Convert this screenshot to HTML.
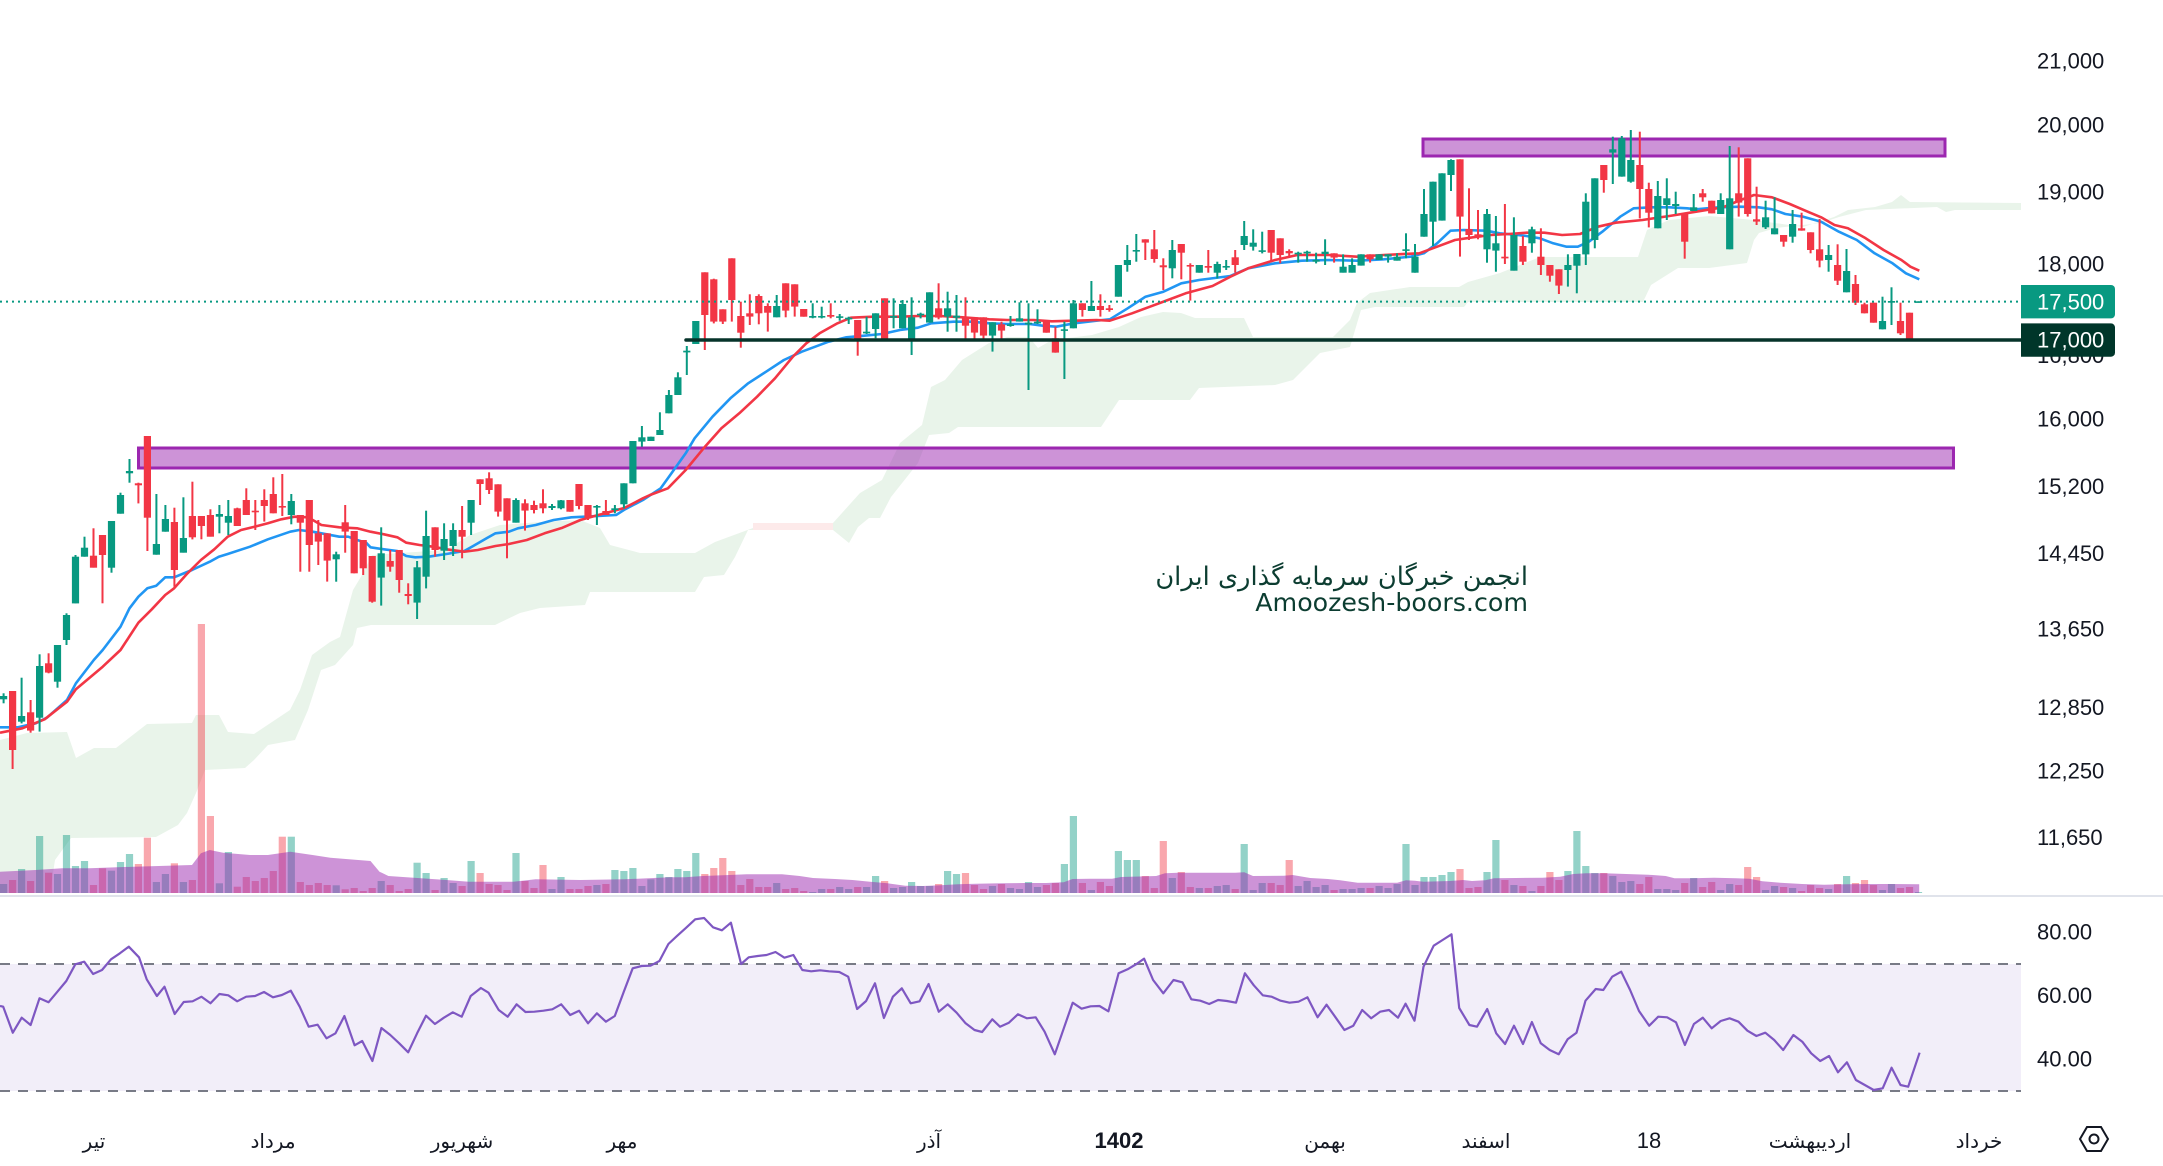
<!DOCTYPE html>
<html><head><meta charset="utf-8">
<style>
html,body{margin:0;padding:0;background:#fff;}
svg{display:block;}
</style></head>
<body>
<svg id="c" width="2163" height="1166" viewBox="0 0 2163 1166" xmlns="http://www.w3.org/2000/svg">
<rect width="2163" height="1166" fill="#fff"/>
<!-- Ichimoku cloud -->
<polygon fill="#e9f4ea" points="0,740 27,733 67,732 76,758 94,748 116,748 147,724 192,723 196,715 219,715 228,732 254,734 272,722 290,710 300,690 312,655 330,642 340,637 353,590 362,575 372,555 400,553 446,550 470,535 500,525 540,522 580,520 600,528 610,545 640,553 695,553 715,542 753,528 833,523 860,493 882,480 900,443 922,425 931,387 945,380 962,360 989,343 1007,337 1029,337 1038,348 1052,340 1092,335 1119,327 1141,317 1163,312 1181,313 1195,318 1244,318 1253,337 1333,337 1350,320 1357,303 1370,293 1410,287 1459,287 1468,282 1500,273 1540,257 1638,257 1647,230 1669,220 1709,216 1754,220 1803,227 1834,217 1848,210 1875,207 1892,202 1901,195 1910,202 2021,203 2021,210 1955,210 1946,212 1937,207 1866,210 1839,217 1821,223 1776,228 1759,233 1754,240 1747,263 1709,268 1678,268 1651,285 1643,302 1468,302 1464,307 1375,307 1361,310 1350,347 1320,353 1293,380 1275,385 1199,388 1190,400 1119,400 1101,427 958,427 949,433 929,435 918,463 891,497 880,518 869,518 858,527 849,543 833,530 753,530 748,530 735,557 724,575 704,577 695,592 590,592 585,605 540,608 520,613 495,625 371,625 357,628 353,645 335,665 321,670 308,710 295,740 268,745 254,760 245,768 205,770 196,793 187,813 178,825 156,837 71,838 55,860 50,893 0,893"/>
<polygon fill="#fdeaea" points="753,523 833,523 833,530 753,530"/>
<g id="vol"></g>
<polygon fill="rgba(156,39,176,0.5)" points="0,871.7 35.7,870 62.5,868.3 89.3,868.3 133.9,866.7 192,865 200.9,853.3 209.8,850 223.2,852.7 250,855 267.9,855 290.2,851.7 312.5,855 330.4,857.7 370.5,861 379.5,871.7 388.4,876 446.4,880 468.8,881.7 513.4,881.7 535.7,879.3 580.4,880 625,879.3 669.6,877.3 685.2,877.3 702.8,876 729.2,875 746.8,874.3 782,874.3 799.6,876 812.9,878 834.9,879 852.5,880 870.1,881.7 887.7,883.3 905.3,885.7 922.9,886 940.5,885.3 958.1,884.3 975.7,883.7 1002.1,883.3 1024.1,883 1046.1,883 1063.7,882.3 1072.5,879 1090.1,878.7 1112.1,878.7 1121,877 1156.2,876 1165,873.3 1178.2,872.7 1200.2,872.7 1235.4,872.7 1244.2,872.3 1253,876 1283.8,875.7 1292.6,875 1310.2,878 1327.8,879 1340.1,880.3 1357.6,882.7 1397.2,882.7 1406,880.3 1414.8,880.7 1423.6,881.7 1450,881 1463.2,880 1472,881 1485.2,880.3 1494,878.3 1516.1,878 1542.5,877.7 1560.1,876.7 1573.3,874 1586.5,873.3 1604.1,873.3 1626.1,874 1648.1,874.7 1665.7,876 1674.5,878.3 1692.1,878.3 1714.1,877.7 1736.1,878.3 1749.3,878.7 1762.5,881.3 1780.1,882.7 1802.1,884 1824.1,884.7 1846.1,884.3 1868.2,884 1890.1,884 1919.2,884.3 1919.2,893 0,893"/>
<!-- purple zones -->
<rect x="1423" y="139" width="522" height="17" fill="rgba(156,39,176,0.5)" stroke="#9c27b0" stroke-width="3"/>
<rect x="138.5" y="448" width="1815" height="20" fill="rgba(156,39,176,0.5)" stroke="#9c27b0" stroke-width="3"/>
<!-- MAs -->
<polyline fill="none" stroke="#2196f3" stroke-width="2.6" stroke-linejoin="round" points="0,727.3 17.9,727.3 35.7,723.3 46.9,717.7 67,700 75.9,683.3 93.8,660 102.7,650 120.5,626.7 129.5,608.3 138.4,596.7 147.3,588.3 156.3,585.7 165.2,577.3 174.1,577.3 192,570 209.8,561.7 218.8,556.7 227.7,554 250,546.7 267.9,539.3 290.2,531.7 299.1,530 312.5,531.7 321.4,533.3 339.3,536.7 348.2,536.7 357.1,540 366.1,542.7 370.5,547.3 383.9,549.3 397.3,551 406.3,556 415.2,557.3 428.6,556.7 446.4,554 464.3,551 473.2,546 486.6,538.3 495.5,533.3 508.9,531.7 517.9,528.3 535.7,525 553.6,520 571.4,517.3 584.8,516.7 616.1,515 625,509.3 642.9,500 660.7,488.3 667.9,478.3 685.7,453.3 694.6,438.3 712.5,416.7 730.4,398.3 748.2,383.3 766.1,371.7 783.9,360 801.8,351.7 828.6,341.7 846.4,337.3 864.3,335.7 882.1,334 900,330 917.9,327.7 931.3,323.3 953.6,321.7 971.4,321.7 989.3,323.3 1007.1,324 1029.5,324 1042.9,325.7 1056.3,326.7 1074.1,323.3 1096.4,320.7 1109.8,319.3 1127.7,308.3 1145.5,296.7 1163.4,291.7 1181.3,283.3 1199.1,280 1230.4,276 1248.2,268.3 1275,263.3 1301.8,260.7 1328.6,260 1356.8,260.7 1383.6,259.3 1410.4,256.7 1423.8,253.3 1437.1,243.3 1450.5,230.7 1463.9,230 1486.3,230.7 1499.6,233.3 1517.5,235 1526.4,236 1539.8,238.3 1553.2,243.3 1566.6,246.7 1577.8,246.7 1588.9,241.7 1602.3,231.7 1620.2,216.7 1633.6,208.3 1651.4,207.3 1669.3,207.3 1687.1,208.3 1696.1,209.3 1718.4,207.3 1740.7,206.7 1758.6,207.3 1772,209.3 1785.4,214 1803.2,216.7 1821.1,221.7 1838.9,231.7 1856.8,240 1874.6,253.3 1892.5,263.3 1905.9,273.3 1919.3,279.3"/>
<polyline fill="none" stroke="#f23645" stroke-width="2.6" stroke-linejoin="round" points="0,732.7 22.3,728.3 44.6,719.3 67,701.7 75.9,689.3 102.7,666.7 120.5,650 138.4,622.7 151.8,609.3 165.2,595 174.1,588.3 187.5,573.3 200.9,560 214.3,549.3 227.7,536.7 241.1,530 254.5,526.7 267.9,523.3 281.3,519.3 294.6,516.7 308,517.3 321.4,525 339.3,527.3 357.1,528.3 370.5,531.7 383.9,534.3 397.3,537.3 406.3,542.7 419.6,545 433,546.7 446.4,549.3 464.3,551.7 477.7,550 495.5,546 508.9,544 526.8,540 544.6,533.3 562.5,527.7 580.4,520 598.2,515 607.1,512.7 625,507.7 642.9,498.3 650,495 667.9,488.3 685.7,470 703.6,448.3 721.4,428.3 739.3,413.3 757.1,396.7 775,378.3 792.9,356.7 806.3,343.3 819.6,333.3 837.5,323.3 850.9,317.7 873.2,316.7 900,316.7 917.9,316 940.2,316 962.5,317.3 989.3,319.3 1007.1,320 1033.9,320 1051.8,321.3 1074.1,320.7 1096.4,320 1109.8,320.7 1132.1,313.3 1150,306.7 1167.9,300 1185.7,293.3 1212.5,286 1230.4,276.7 1248.2,268.3 1275,260 1297.3,255 1328.6,255 1356.8,256.7 1383.6,255 1419.3,253.3 1437.1,246.7 1455,240 1472.9,237.3 1490.7,235 1508.6,234 1526.4,232.7 1544.3,232.7 1562.1,235 1580,234 1597.9,226.7 1615.7,222.7 1642.5,220 1669.3,216 1696.1,211.7 1722.9,207.3 1740.7,200 1754.1,195 1772,197.3 1789.8,204 1807.7,211.7 1821.1,217.3 1834.5,225 1847.9,228.3 1865.7,238.3 1883.6,250 1901.4,260 1910.4,266.7 1919.3,270.7"/>
<g id="candles"></g>
<!-- level lines -->
<line x1="0" y1="301.6" x2="2021" y2="301.6" stroke="#089981" stroke-width="2" stroke-dasharray="2 4"/>
<line x1="686" y1="340" x2="2021" y2="340" stroke="#06332a" stroke-width="3.5" stroke-linecap="round"/>
<!-- watermark -->
<text x="1528" y="585" text-anchor="end" font-family="DejaVu Sans, sans-serif" font-size="25.7" fill="#0c3d31">انجمن خبرگان سرمایه گذاری ایران</text>
<text x="1528" y="611" text-anchor="end" font-family="DejaVu Sans, sans-serif" font-size="25.3" fill="#0c3d31">Amoozesh-boors.com</text>
<!-- price axis -->
<g font-family="Liberation Sans, sans-serif" font-size="22" fill="#131722">
<text x="2037" y="68.5">21,000</text>
<text x="2037" y="132.4">20,000</text>
<text x="2037" y="199.4">19,000</text>
<text x="2037" y="271.3">18,000</text>
<text x="2037" y="363">16,800</text>
<text x="2037" y="426.3">16,000</text>
<text x="2037" y="494">15,200</text>
<text x="2037" y="561">14,450</text>
<text x="2037" y="636.6">13,650</text>
<text x="2037" y="715">12,850</text>
<text x="2037" y="778.6">12,250</text>
<text x="2037" y="845">11,650</text>
</g>
<path d="M2021,285 H2111 a4,4 0 0 1 4,4 V314.4 a4,4 0 0 1 -4,4 H2021 Z" fill="#089981"/>
<text x="2037" y="309.6" font-family="Liberation Sans, sans-serif" font-size="22" fill="#fff">17,500</text>
<path d="M2021,323.4 H2111 a4,4 0 0 1 4,4 V352.7 a4,4 0 0 1 -4,4 H2021 Z" fill="#00362a"/>
<text x="2037" y="347.5" font-family="Liberation Sans, sans-serif" font-size="22" fill="#fff">17,000</text>
<!-- pane separator -->
<rect x="0" y="895" width="2163" height="2" fill="#e0e3eb"/>
<!-- RSI pane -->
<rect x="0" y="964" width="2021" height="127" fill="#f2eef9"/>
<line x1="0" y1="964" x2="2021" y2="964" stroke="#787b86" stroke-width="2" stroke-dasharray="10 8"/>
<line x1="0" y1="1091" x2="2021" y2="1091" stroke="#787b86" stroke-width="2" stroke-dasharray="10 8"/>
<polyline id="rsi" fill="none" stroke="#7e57c2" stroke-width="2.2" stroke-linejoin="round" points=""/>
<g font-family="Liberation Sans, sans-serif" font-size="22" fill="#131722">
<text x="2037" y="939.3">80.00</text>
<text x="2037" y="1002.8">60.00</text>
<text x="2037" y="1066.3">40.00</text>
</g>
<!-- time axis -->
<g font-family="DejaVu Sans, sans-serif" font-size="20" fill="#131722" text-anchor="middle">
<text x="94" y="1148">تیر</text>
<text x="273" y="1148">مرداد</text>
<text x="462" y="1148">شهریور</text>
<text x="622" y="1148">مهر</text>
<text x="929" y="1148">آذر</text>
<text x="1119" y="1148" font-family="Liberation Sans, sans-serif" font-size="22" font-weight="bold">1402</text>
<text x="1325" y="1148">بهمن</text>
<text x="1486" y="1148">اسفند</text>
<text x="1649" y="1148" font-family="Liberation Sans, sans-serif" font-size="22">18</text>
<text x="1810" y="1148">اردیبهشت</text>
<text x="1979" y="1148">خرداد</text>
</g>
<polygon points="2080,1139 2087,1127 2101,1127 2108,1139 2101,1151 2087,1151" fill="none" stroke="#131722" stroke-width="2"/>
<circle cx="2094" cy="1139" r="4.5" fill="none" stroke="#131722" stroke-width="2"/>
</svg>
<script>
(function(){
var G='#089981',R='#f23645';
function X(i){return 3.6+8.99*i;}
var c3=[
['g',828,838,820,850],['r',813,990,813,1047],['g',888,905,773,910],['r',877,932,840,938],['g',738,893,703,935],
['r',730,758,700,760],['g',675,785,675,803],['g',585,660,580,675],['g',410,550,405,550],['g',383,410,350,410],
['r',407,443,325,443],['r',345,405,345,550],['g',303,443,303,458],['g',225,281,218,281],['g',153,160,117,188],
['r',190,196,188,250],['r',48,293,48,393],['g',372,404,222,404],['g',297,335,255,335],['r',306,450,263,500],
['g',354,398,232,398],['r',288,352,185,358],['r',288,318,288,358],['r',285,350,268,350],['g',282,290,255,340],
['g',288,308,240,345],['r',265,318,263,318],['r',240,285,205,285],['r',272,276,240,330],['r',240,258,208,305],
['r',222,280,172,280],['r',258,262,162,288],['g',243,285,222,313],['r',285,308,285,455],['r',240,375,240,455],
['r',340,365,300,435],['r',340,422,340,485],['g',403,418,395,485],['r',307,335,255,398],['r',333,460,333,460],
['r',360,445,360,465],['r',408,545,408,548],['g',400,473,322,557],['r',423,440,390,455],['r',390,480,390,518],
['r',522,528,490,553],['g',442,548,423,597],['g',348,470,272,505],['r',322,390,322,410],['g',357,392,310,420],
['g',330,378,310,408],['r',330,350,258,415],['g',240,308,240,345],['r',178,192,178,255],['r',175,210,157,222],
['r',193,275,193,290],['r',235,302,235,415],['g',240,308,235,308],['r',250,272,238,332],['r',255,270,242,280],
['r',250,265,208,280],['g',258,264,252,270],['g',241,265,240,268],['r',240,275,240,275],['r',192,258,192,268],
['r',255,292,255,300],['g',258,262,255,315],['r',273,285,240,285],['g',265,270,255,280],['g',190,253,190,265],
['g',63,190,63,190],['g',52,65,18,80]];
var c4=[
['g',770,783,770,783],['g',750,765,697,765],['g',645,700,630,700],['g',592,645,577,645],['g',512,517,498,585],
['g',423,492,423,492],['r',277,405,277,510],['r',298,425,296,430],['r',388,425,388,432],['r',235,360,235,425],
['r',408,458,365,503],['r',400,410,343,435],['r',348,400,343,433],['r',378,398,370,455],['g',378,412,345,412],
['r',310,392,310,412],['r',313,380,313,410],['r',387,410,387,410],['g',408,413,370,415],['g',408,412,380,415],
['r',405,410,370,415],['g',409,412,402,422],['g',413,418,410,432],['r',420,480,420,527],['g',455,460,410,462],
['g',400,447,400,475],['r',355,480,355,480],['g',408,413,355,445],['g',372,445,360,445],['g',412,483,352,525],
['g',401,405,398,415],['g',337,428,337,428],['r',385,413,310,418],['g',385,410,335,455],['g',407,413,345,455],
['r',410,437,352,480],['r',412,458,412,478],['r',412,467,412,478],['g',427,467,427,515],['r',433,452,425,480],
['g',433,438,408,440],['g',415,425,367,425],['g',428,430,370,630],['g',425,430,388,432],['r',420,458,420,458],
['r',475,518,440,518],['g',448,452,425,597],['g',370,445,360,445],['r',370,390,370,410],['g',378,393,303,393],
['r',378,390,343,410],['r',385,390,375,395],['g',255,350,255,350],['g',240,255,195,275],['g',210,213,162,245],
['r',178,188,178,240],['r',208,237,150,248],['r',256,262,235,330],['g',210,265,180,295],['r',192,218,192,298],
['r',255,258,250,362],['g',255,278,255,278],['r',258,263,210,278],['g',252,278,245,295],['g',258,262,240,270],
['r',232,255,210,278],['g',168,195,123,210],['g',188,200,148,212],['g',211,215,155,220],['r',150,218,150,245],
['r',175,225,175,250],['r',213,220,208,228],['g',218,222,215,248],['g',215,220,212,245],['g',240,245,218,250],
['g',215,222,178,255],['r',220,233,220,248]];
var c5=[
['g',470,488,433,488],['g',465,488,445,488],['g',433,467,433,467],['r',433,448,433,458],['g',433,450,433,450],
['g',433,440,433,458],['g',440,452,430,452],['g',418,422,370,445],['g',440,488,402,488],['g',312,380,237,380],
['g',215,335,215,408],['g',190,332,190,332],['g',150,195,148,243],['r',148,320,148,440],['r',357,375,235,390],
['r',373,383,300,388],['g',312,418,297,458],['g',400,422,318,485],['r',440,445,282,462],['g',375,482,322,482],
['r',408,455,378,465],['g',358,400,350,428],['r',440,465,355,495],['r',465,497,465,515],['r',478,527,478,552],
['g',465,480,433,530],['g',432,467,432,550],['g',275,433,250,465],['g',205,390,205,415],['r',165,210,165,248],
['g',118,128,80,222],['g',85,200,78,200],['g',150,215,60,218],['r',165,237,65,325],['r',237,308,218,352],
['g',258,355,213,355],['g',265,285,205,330],['g',282,288,245,312],['r',312,395,312,446],['g',292,303,252,303],
['r',250,262,237,275],['r',272,310,272,310],['g',270,312,250,312],['g',265,418,108,418],['r',250,278,112,320],
['r',145,312,145,320],['r',328,335,230,345],['g',322,352,272,357],['g',355,373,262,373],['r',375,395,375,410],
['g',342,380,300,398],['r',355,362,308,362],['r',367,420,367,430],['r',418,452,327,472],['g',435,450,405,485],
['r',465,512,403,525],['g',483,547,417,547],['r',522,578,495,585],['r',583,610,578,610],['r',578,638,578,638],
['g',633,658,560,658],['g',573,578,532,645],['r',633,670,578,675],['r',608,686,608,686],['g',574,578,574,578]];
var cs=[];
function add(arr,off){arr.forEach(function(a){cs.push([a[0],off+a[1]/3,off+a[2]/3,off+a[3]/3,off+a[4]/3]);});}
add(c3,420);add(c4,180);add(c5,110);
var s='';
cs.forEach(function(a,i){
  var x=X(i),col=a[0]=='g'?G:R;
  s+='<rect x="'+(x-1).toFixed(1)+'" y="'+a[3].toFixed(1)+'" width="2" height="'+Math.max(1,a[4]-a[3]).toFixed(1)+'" fill="'+col+'"/>';
  s+='<rect x="'+(x-3.6).toFixed(1)+'" y="'+a[1].toFixed(1)+'" width="7.2" height="'+Math.max(1.6,a[2]-a[1]).toFixed(1)+'" fill="'+col+'"/>';
});
document.getElementById('candles').innerHTML=s;
var vt=[884,880,869,881,836,872.7,874,835,866,861,885,868.3,870.7,862,854,864,837.7,882,874,863.3,882,880,624,816,883.3,852,886.7,877,881,878,871,836.7,836.7,882,885,883,885,885.3,889.3,888,891,888,881,885,891,889,862.7,873,890,878,883,886,861,873,884,885,890,853,881,888,865,889,877,889,889,886,885,884,870,871,868,886,879.3,
874,877,869,871,853,874,868,858,871,885,879,887,887,883,889,888,891,892,889,889,887,889,887,887,876,881,888,887,882,886,886,884,871,874,873,885,889,886,884,888,889,882,887,885,883,864,816,883,890,882,886,851,860,860,876,888,841,878,872,887,888,888,886,885,889,844,890,883,883,885,860,886,881,887,885,890,
889,889,888,888,886,888,884,844,885,877,877,875,872,869,888,887,872,840,880,885,886,891,886,872,880,871,831,866,873,873,876,882,881,884,877,889,889,890,883,878,887,882,890,884,885,867,877,890,886,887,888,891,885,888,889,884,876,883,880,885,890,884,888,887,892];
var v='';
for(var i=0;i<cs.length&&i<vt.length;i++){
  var col=cs[i][0]=='g'?'rgba(8,153,129,0.44)':'rgba(242,54,69,0.44)';
  v+='<rect x="'+(X(i)-3.6).toFixed(1)+'" y="'+vt[i]+'" width="7.2" height="'+(893-vt[i]).toFixed(1)+'" fill="'+col+'"/>';
}
document.getElementById('vol').innerHTML=v;
var r6=[0,378,5,380,20,458,34,413,48,435,62,355,76,367,90,335,104,303,118,253,132,245,146,282,160,270,174,238,188,220,202,200,218,232,230,298,246,348,258,320,274,402,288,366,302,364,316,350,330,370,344,342,358,346,372,364,386,350,400,348,414,336,428,352,442,345,456,332,470,380,484,440,498,434,512,475,526,460,540,408,556,496,568,483,584,543,598,444,612,465,626,490,640,517,654,460,668,407,682,432,696,413,710,397,724,410,738,348,754,324,766,338,782,390,796,410,810,373,824,396,838,395,852,392,866,388,880,373,894,405,908,392,922,430,936,400,950,425,964,408,978,336,992,265,1006,258,1020,257,1034,243,1048,192,1062,167,1076,143,1090,118,1104,114,1118,142,1132,151,1146,128,1162,252,1174,232,1188,228,1202,225,1216,216,1230,233,1244,225,1258,270,1272,274,1286,271,1300,274,1316,276,1330,290,1344,387,1358,363,1372,310,1386,414,1400,350,1414,325,1428,370,1442,364,1456,312,1472,395,1486,373,1500,398,1514,430,1528,450,1540,456,1556,418];
var r7=[0,440,14,428,28,403,42,415,56,412,70,455,86,523,100,445,114,368,128,386,142,379,156,378,170,394,186,280,200,268,214,252,226,236,240,300,256,340,272,300,286,307,300,358,314,362,328,372,342,360,356,363,370,368,384,280,398,316,412,346,426,350,440,362,454,368,468,365,482,352,498,412,512,374,526,412,540,450,554,437,568,390,582,415,596,395,610,390,624,413,636,371,650,422,664,260,680,197,694,180,708,163,720,384,736,435,748,440,764,387,778,460,792,492,806,437,820,492,834,426,848,490,862,510,876,523,890,478,904,458,918,362,934,327,946,330,960,290,974,275,988,330,1002,393,1018,437,1032,410,1046,412,1060,427,1074,495,1088,432,1102,413,1116,445,1130,423,1144,415,1158,425,1172,452,1186,468,1200,458,1214,480,1228,510,1244,465,1258,485,1272,520,1286,543,1300,528,1314,577,1328,547,1342,600,1356,615,1370,630,1384,625,1398,563,1412,615,1424,620,1442,518];
var p=[];
function addr(a,off){for(var k=0;k<a.length;k+=2){p.push((a[k]/1.568+off).toFixed(1)+','+(880+a[k+1]/3).toFixed(1));}}
addr(r6,0);addr(r7,1000);
document.getElementById('rsi').setAttribute('points',p.join(' '));
})();
</script>
</body></html>
